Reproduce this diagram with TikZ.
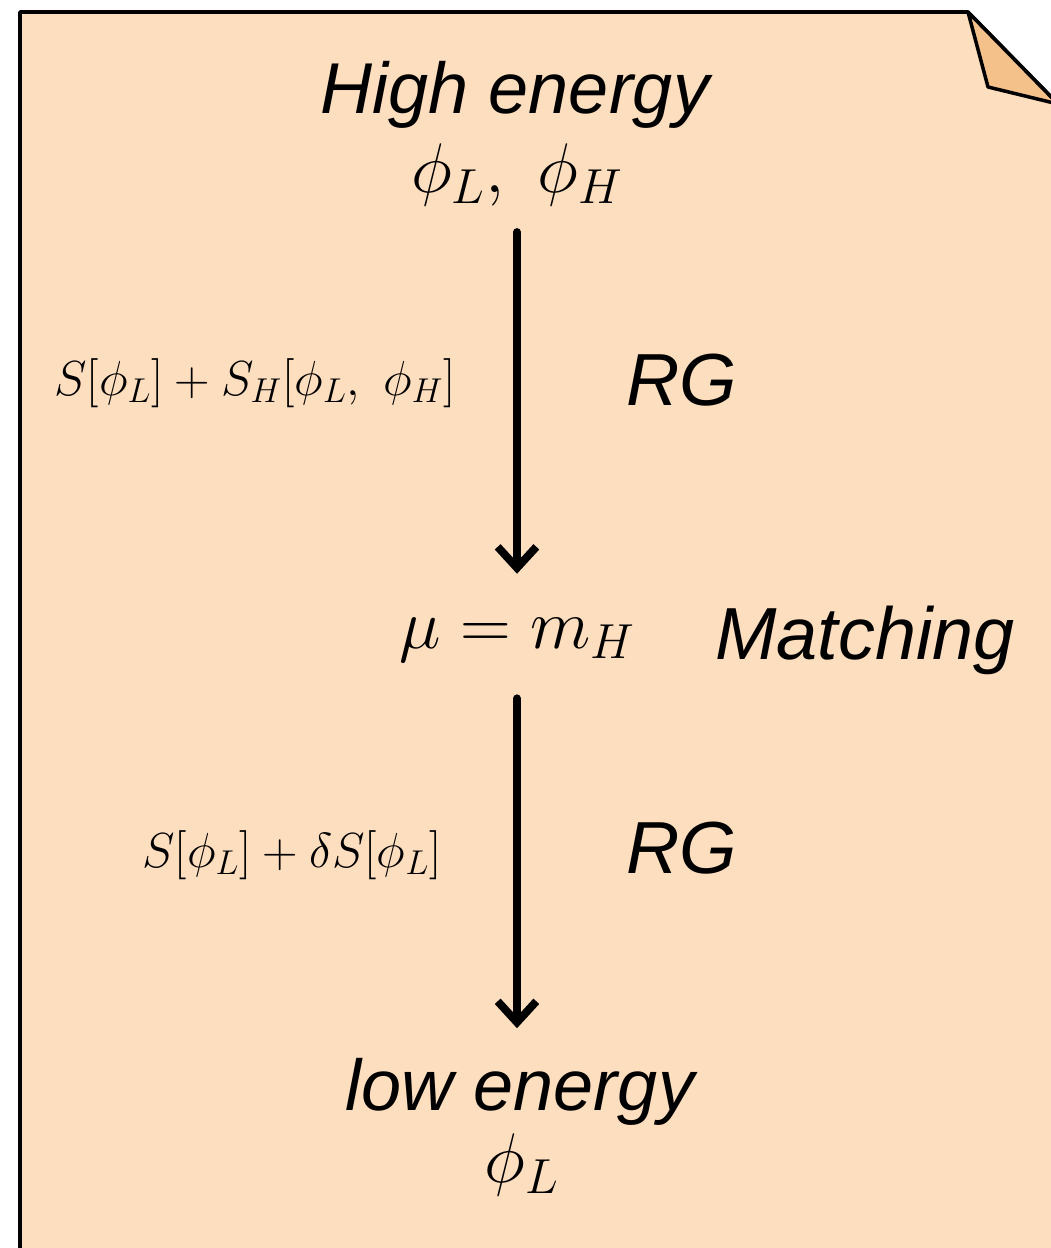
\RequirePackage{fix-cm}
\documentclass[tikz,border=0pt]{standalone}
\usepackage{amsmath}
\usepackage{fontspec}
\setsansfont{Liberation Sans}
\usepackage{xcolor}
\usepackage{tikz}
\usetikzlibrary{arrows.meta, positioning}

\definecolor{paperfill}{HTML}{FDDEBE}
\definecolor{foldfill}{HTML}{F4C18B}

\begin{document}
\begin{tikzpicture}[
  x=0.02cm, y=-0.02cm,
  title/.style={font=\fontsize{41}{48}\selectfont\sffamily\itshape, inner sep=0pt},
  field/.style={font=\fontsize{40}{46}\selectfont, inner sep=0pt},
  action/.style={font=\fontsize{28}{34}\selectfont, inner sep=0pt},
  tag/.style={font=\fontsize{42}{48}\selectfont\sffamily\itshape, inner sep=0pt},
  arrow/.style={-{Straight Barb[length=12pt, width=22pt]}, line width=4.5pt, line cap=round},
  paper/.style={draw, line width=2pt, fill=paperfill, line join=round},
  fold/.style={draw, line width=2pt, fill=foldfill, line join=round}
]
\useasboundingbox (0,0) rectangle (1051,1248);
\clip (0,0) rectangle (1051,1248);

% PAPER SHEET
\draw[paper] (20,1270) -- (20,12) -- (968,12) -- (1070,116) -- (1070,1270) -- cycle;
\draw[fold] (968,12) -- (988,87) -- (1058,104) -- cycle;

% HIGH ENERGY
\node[title] (high) at (515,95) {High energy};
\node[field] (phiLH) at (517,175) {$\phi_L,\ \phi_H$};

% MATCHING
\node[field] (mu) at (517,640) {$\mu = m_H$};
\node[tag] (match) at (865,640) {Matching};

% LOW ENERGY
\node[title] (low) at (520,1092) {low energy};
\node[field] (phiL) at (522,1165) {$\phi_L$};

% RG RUNNING
\node[action] (act1) at (255,383) {$S[\phi_L]+S_H[\phi_L,\ \phi_H]$};
\node[tag] (rg1) at (682,380) {RG};
\node[action] (act2) at (292,855) {$S[\phi_L]+\delta S[\phi_L]$};
\node[tag] (rg2) at (682,848) {RG};

\draw[arrow, shorten <=14.5pt, shorten >=25pt] (phiLH.south) -- (mu.north);
\draw[arrow, shorten <=20.5pt, shorten >=17pt] (mu.south) -- (mu.south |- low.north);

\end{tikzpicture}
\end{document}
